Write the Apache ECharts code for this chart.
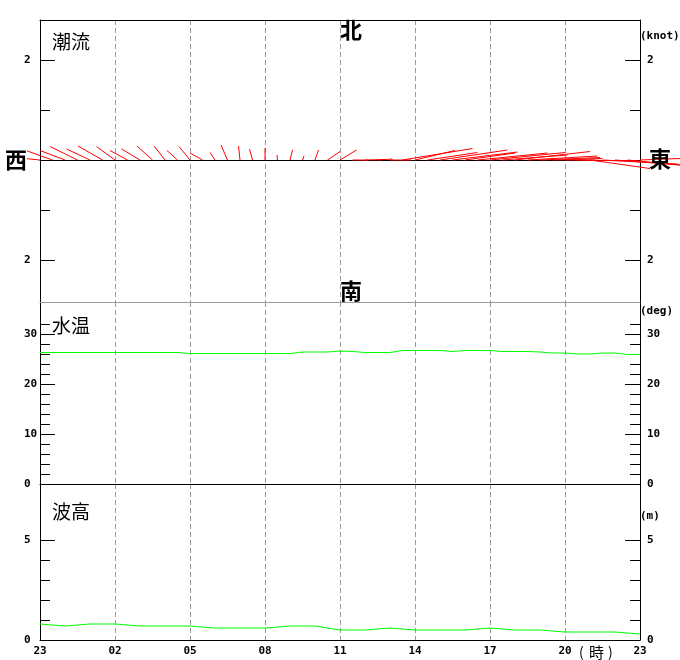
<!DOCTYPE html>
<html><head><meta charset="utf-8">
<script src="https://cdn.jsdelivr.net/npm/echarts@6/dist/echarts.min.js"></script>
<style>html,body{margin:0;padding:0;background:#fff}#c{width:680px;height:660px}</style>
</head><body><div id="c"></div>
<script>
// ---- data ----
const hourLabels = ['23','02','05','08','11','14','17','20','23'];
// tidal current: time (hours after 23:00), east & north components (knot)
const curTime  = [0,0.5,1,1.5,2,2.5,3,3.5,4,4.5,5,5.5,6,6.5,7,7.5,8,8.5,9,9.5,10,10.5,11,11.5,12,12.5,13,13.5,14,14.5,15,15.5,16,16.5,17,17.5,18,18.5,19,19.5,20,20.5,21,21.5,22,22.5,23,23.5,24];
const curEast  = [-0.60,-0.56,-0.50,-0.55,-0.47,-0.49,-0.37,-0.35,-0.37,-0.31,-0.22,-0.21,-0.22,-0.25,-0.10,-0.13,-0.03,-0.06,0.00,-0.01,0.05,0.03,0.07,0.25,0.33,0.30,0.40,0.30,0.42,1.40,0.80,1.00,1.35,1.30,1.00,1.40,1.50,1.30,1.50,1.40,1.20,1.00,0.60,1.20,1.20,1.50,1.30,1.05,0.80];
const curNorth = [0.06,0.20,0.19,0.27,0.22,0.28,0.27,0.19,0.22,0.28,0.28,0.19,0.27,0.14,0.15,0.30,0.28,0.22,0.24,0.10,0.20,0.08,0.20,0.17,0.20,0.00,0.01,0.02,0.00,0.23,0.19,0.15,0.20,0.16,0.14,0.14,0.15,0.10,0.17,0.08,0.05,0.03,0.00,-0.02,-0.17,-0.08,-0.10,-0.10,0.03];
// water temperature (deg)
const tempTime = curTime;
const tempValues = [26.3,26.3,26.3,26.3,26.3,26.3,26.3,26.3,26.3,26.3,26.3,26.3,
  26.1,26.1,26.1,26.1,26.1,26.1,26.1,26.1,26.1,
  26.4,26.4,26.4,26.6,26.5,26.3,26.3,26.3,26.7,26.7,26.7,26.7,26.5,26.7,26.7,26.7,
  26.5,26.5,26.5,26.4,26.2,26.2,26.0,26.0,26.2,26.2,25.9,25.9];
// wave height (m), hourly
const waveTime = [0,1,2,3,4,5,6,7,8,9,10,11,12,13,14,15,16,17,18,19,20,21,22,23,24];
const waveValues = [0.8,0.7,0.8,0.8,0.7,0.7,0.7,0.6,0.6,0.6,0.7,0.7,0.5,0.5,0.6,0.5,0.5,0.5,0.6,0.5,0.5,0.4,0.4,0.4,0.3];
// axis ticks
const curMajor = [2,-2], curMinor = [1,-1];
const tempMajor = [0,10,20,30], tempMinor = [2,4,6,8,12,14,16,18,22,24,26,28,32];
const waveMajor = [0,5], waveMinor = [1,2,3,4];

// ---- chart ----
const MONO = '"DejaVu Sans Mono", monospace';
const JP = '"Noto Sans CJK JP", sans-serif';
const lblStyle = {fontFamily: MONO, fontWeight: 'bold', fontSize: 11, color: '#000'};
const baseGrids = [
  {left: 40, right: 40, top: 20, height: 282},
  {left: 40, right: 40, top: 302, height: 182},
  {left: 40, right: 40, top: 484, height: 156}
];
// grids 3..5 are identical overlays that carry the short ticks
const grids = baseGrids.concat(baseGrids.map(g => Object.assign({}, g)));
const ranges = [[-2.84, 2.8], [0, 36.4], [0, 7.8]];
const majors = [curMajor, tempMajor, waveMajor];
const minors = [curMinor, tempMinor, waveMinor];

const yAxes = [];
for (let g = 0; g < 3; g++) {
  ['left','right'].forEach(pos => {
    yAxes.push({
      type: 'value', gridIndex: g, position: pos, min: ranges[g][0], max: ranges[g][1],
      axisLine: {show: true, onZero: false, lineStyle: {color: '#000', width: 1}},
      axisTick: {show: true, inside: true, length: 15, customValues: majors[g], lineStyle: {color: '#000'}},
      axisLabel: Object.assign({show: true, customValues: majors[g], align: 'left',
        margin: pos === 'left' ? 16 : 7, formatter: v => String(Math.abs(v))}, lblStyle),
      splitLine: {show: false}
    });
  });
}
for (let g = 0; g < 3; g++) {
  ['left','right'].forEach(pos => {
    yAxes.push({
      type: 'value', gridIndex: g + 3, position: pos, min: ranges[g][0], max: ranges[g][1],
      axisLine: {show: false},
      axisTick: {show: true, inside: true, length: 10, customValues: minors[g], lineStyle: {color: '#000'}},
      axisLabel: {show: false},
      splitLine: {show: false}
    });
  });
}

const dashed = {show: true, lineStyle: {color: '#999', type: [5, 3], width: 1}};
const xAxes = [];
for (let g = 0; g < 3; g++) {
  xAxes.push({
    type: 'value', gridIndex: g, position: 'bottom', min: 0, max: 24, interval: 3,
    axisLine: {show: true, onZero: g === 0, onZeroAxisIndex: g * 2, lineStyle: {color: '#000', width: 1}},
    axisTick: {show: false},
    axisLabel: g === 2 ? Object.assign({show: true, margin: 6, showMinLabel: true, showMaxLabel: true,
      formatter: v => hourLabels[Math.round(v / 3)]}, lblStyle) : {show: false},
    splitLine: dashed
  });
  xAxes.push({
    type: 'value', gridIndex: g, position: 'top', min: 0, max: 24, interval: 3,
    axisLine: {show: g < 2, onZero: false, lineStyle: {color: g === 0 ? '#000' : '#999', width: 1}},
    axisTick: {show: false}, axisLabel: {show: false}, splitLine: {show: false}
  });
}
for (let g = 0; g < 3; g++) {
  xAxes.push({
    type: 'value', gridIndex: g + 3, min: 0, max: 24, show: false,
    axisLine: {show: false}, axisTick: {show: false}, axisLabel: {show: false}, splitLine: {show: false}
  });
}

const txt = (x, y, text, font, extra) => ({
  type: 'text', x: x, y: y, z: 50,
  style: Object.assign({text: text, font: font, fill: '#000', align: 'left', verticalAlign: 'middle'}, extra || {})
});

const option = {
  animation: false,
  backgroundColor: '#fff',
  grid: grids,
  xAxis: xAxes,
  yAxis: yAxes,
  series: [
    {
      type: 'custom', xAxisIndex: 0, yAxisIndex: 0, clip: false, silent: true, z: 5,
      data: curTime.map((t, i) => [t, curEast[i], curNorth[i]]),
      encode: {x: 0, y: 2},
      renderItem: (params, api) => {
        const t = api.value(0), u = api.value(1), v = api.value(2);
        const p0 = api.coord([t, 0]);
        const k = api.size([0, 1])[1];
        return {type: 'line', shape: {x1: p0[0], y1: p0[1], x2: p0[0] + u * k, y2: p0[1] - v * k},
          style: {stroke: '#ff0000', lineWidth: 1}};
      }
    },
    {
      type: 'line', xAxisIndex: 2, yAxisIndex: 2, showSymbol: false, silent: true,
      data: tempTime.map((t, i) => [t, tempValues[i]]),
      lineStyle: {color: '#00ff00', width: 1.2}
    },
    {
      type: 'line', xAxisIndex: 4, yAxisIndex: 4, showSymbol: false, silent: true,
      data: waveTime.map((t, i) => [t, waveValues[i]]),
      lineStyle: {color: '#00ff00', width: 1.2}
    }
  ],
  graphic: [
    txt(52, 42, '潮流', '19px ' + JP),
    txt(52, 326, '水温', '19px ' + JP),
    txt(52, 512, '波高', '19px ' + JP),
    txt(351, 30, '北', 'bold 22px ' + JP, {align: 'center'}),
    txt(351, 291, '南', 'bold 22px ' + JP, {align: 'center'}),
    Object.assign(txt(16, 160, '西', 'bold 22px ' + JP, {align: 'center', backgroundColor: '#fff'}), {z: 100}),
    txt(660, 159, '東', 'bold 22px ' + JP, {align: 'center'}),
    txt(640, 36, '(knot)', 'bold 11px ' + MONO),
    txt(640, 311, '(deg)', 'bold 11px ' + MONO),
    txt(640, 516, '(m)', 'bold 11px ' + MONO),
    txt(579, 652, '(', '14px ' + JP),
    txt(589, 652, '時', '15px ' + JP),
    txt(608, 652, ')', '14px ' + JP)
  ]
};
const chart = echarts.init(document.getElementById('c'));
chart.setOption(option);
</script>
</body></html>
